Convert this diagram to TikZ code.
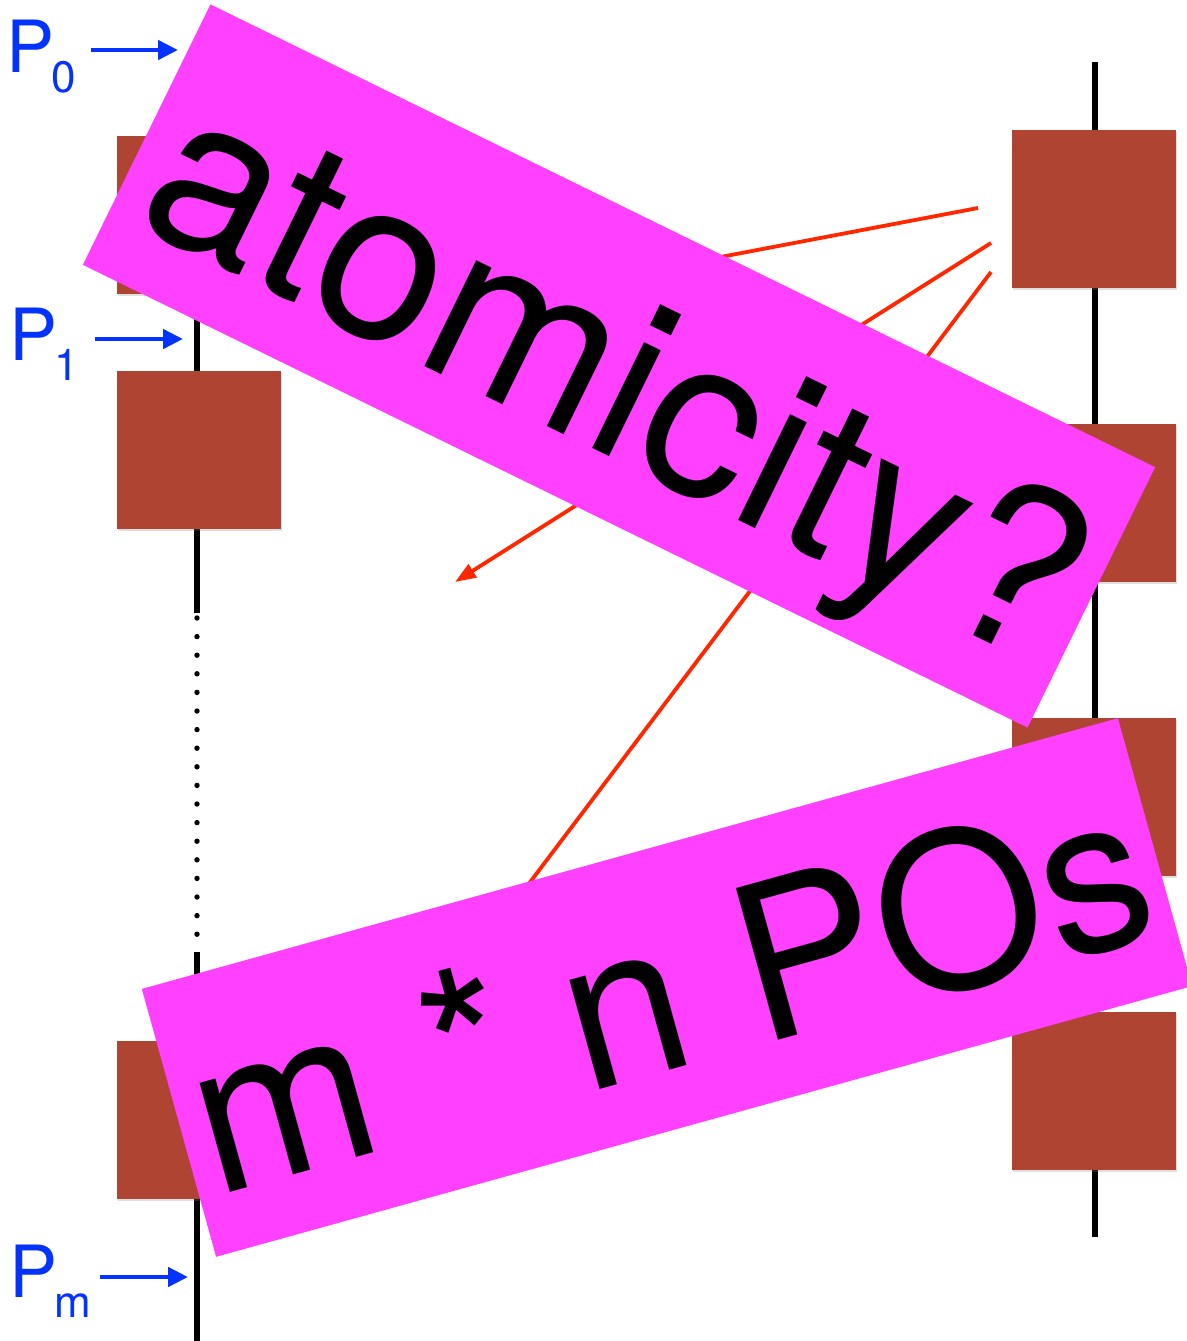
\documentclass[tikz,border=0pt]{standalone}
\usepackage{fontspec}
\setmainfont{TeX Gyre Heros}
\usetikzlibrary{arrows.meta, positioning, shadows}

\definecolor{brick}{RGB}{176,68,51}
\definecolor{postit}{RGB}{255,64,255}
\definecolor{msgred}{RGB}{255,38,0}
\definecolor{procblue}{RGB}{4,51,255}

\newcommand{\procsub}[1]{\kern-3pt\raisebox{-20pt}{\fontsize{44}{44}\selectfont #1}}

\begin{document}
\begin{tikzpicture}[
    x=1pt, y=-1pt,
    lifeline/.style={line width=5.4pt},
    event/.style={fill=brick, minimum width=164pt, minimum height=158pt, inner sep=0pt,
                  drop shadow={shadow xshift=1pt, shadow yshift=-2pt, opacity=0.25}},
    sticky/.style={fill=postit, inner sep=0pt},
    bigtext/.style={font=\fontsize{225}{225}\selectfont, inner sep=0pt, anchor=base},
    proc/.style={text=procblue, font=\fontsize{72}{72}\selectfont, inner sep=0pt, anchor=base west},
    procarrow/.style={draw=procblue, line width=4.6pt, -{Triangle[length=20pt, width=19pt]}},
    msg/.style={draw=msgred, line width=3.8pt}
]
  \useasboundingbox (0,0) rectangle (1186,1341);

  % lifelines
  \coordinate (ltop) at (197,48);
  \coordinate (lgap) at (197,613);
  \coordinate (ldot) at (197,618);
  \coordinate (ldotend) at (197,935);
  \coordinate (lres) at (197,952);
  \coordinate (lbot) at (197,1341);
  \coordinate (rtop) at (1095,62);
  \coordinate (rbot) at (1095,1237);
  \draw[lifeline] (ltop) -- (lgap);
  \draw[lifeline, dash pattern=on 0pt off 18.6pt, line cap=round] (ldot) -- (ldotend);
  \draw[lifeline] (lres) -- (lbot);
  \draw[lifeline] (rtop) -- (rbot);

  % events
  \node[event] (l1) at (199,214.5) {};
  \node[event, below=77pt of l1] (l2) {};
  \node[event] (lm) at (199,1120) {};
  \node[event] (r1) at (1094,209) {};
  \node[event, below=135.5pt of r1] (r2) {};
  \node[event, below=135.5pt of r2] (r3) {};
  \node[event, below=135.5pt of r3] (r4) {};

  % messages out of the first event
  \coordinate (m1s) at (978,208);
  \coordinate (m1e) at (400,318);
  \coordinate (m2s) at (991,243);
  \coordinate (m2e) at (455,582);
  \coordinate (m3s) at (991,272);
  \coordinate (m3e) at (330,1147);
  \draw[msg] (m1s) -- (m1e);
  \draw[msg, -{Triangle[length=21pt, width=15pt]}] (m2s) -- (m2e);
  \draw[msg] (m3s) -- (m3e);

  % stickies
  \node[sticky, minimum width=1052pt, minimum height=290pt, rotate=-26.1] (atombox) at (619,366) {};
  \node[bigtext, rotate=-26.1] (atomtext) at (585,445) {atomicity?};
  \node[sticky, minimum width=1013pt, minimum height=278pt, rotate=15.5] (posbox) at (667,987.5) {};
  \node[bigtext, font=\fontsize{216}{216}\selectfont, rotate=15.5] (postext) at (690,1065) {m * n POs};

  % processes
  \node[proc] (p0) at (6,72) {P\procsub{0}};
  \node[proc] (p1) at (9,360) {P\procsub{1}};
  \node[proc] (pm) at (9,1297) {P\procsub{m}};
  \coordinate (t0) at (178,50);
  \coordinate (t1) at (183,339);
  \coordinate (tm) at (188,1277);
  \draw[procarrow, shorten <=15pt] (p0.east |- t0) -- (t0);
  \draw[procarrow, shorten <=16pt] (p1.east |- t1) -- (t1);
  \draw[procarrow, shorten <=9pt] (pm.east |- tm) -- (tm);
\end{tikzpicture}
\end{document}
